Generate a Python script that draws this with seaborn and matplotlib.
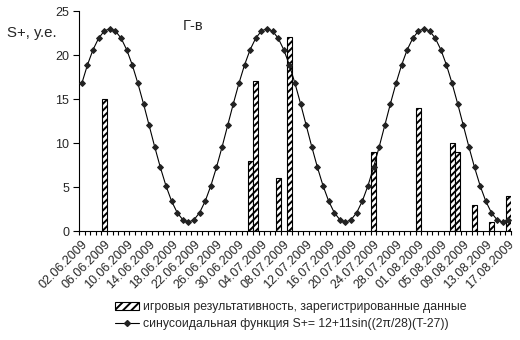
import numpy as np
import pandas as pd
import matplotlib
matplotlib.use("Agg")
import matplotlib.pyplot as plt
import matplotlib.transforms as mtransforms
import seaborn as sns
from matplotlib.patches import Patch
from matplotlib.lines import Line2D

sns.set_theme(style="white")
plt.rcParams["font.family"] = ["Liberation Sans", "DejaVu Sans"]
plt.rcParams["hatch.linewidth"] = 1.4
plt.rcParams["hatch.color"] = "black"

# daily categories, 02.06.2009 .. 17.08.2009
dates = pd.date_range("2009-06-02", "2009-08-17", freq="D").strftime("%d.%m.%Y").tolist()

# sinusoidal model S+ for each day
sine_values = [
    16.77, 18.86, 20.60, 21.91, 22.72, 23.00, 22.72, 21.91, 20.60, 18.86,
    16.77, 14.45, 12.00, 9.55, 7.23, 5.14, 3.40, 2.09, 1.28, 1.00,
    1.28, 2.09, 3.40, 5.14, 7.23, 9.55,
    12.00, 14.45, 16.77, 18.86, 20.60, 21.91, 22.72, 23.00, 22.72, 21.91,
    20.60, 18.86, 16.77, 14.45, 12.00, 9.55, 7.23, 5.14, 3.40, 2.09,
    1.28, 1.00, 1.28, 2.09, 3.40, 5.14, 7.23, 9.55,
    12.00, 14.45, 16.77, 18.86, 20.60, 21.91, 22.72, 23.00, 22.72, 21.91,
    20.60, 18.86, 16.77, 14.45, 12.00, 9.55, 7.23, 5.14, 3.40, 2.09,
    1.28, 1.00, 1.28,
]

# registered game results
bar_dates = ["06.06.2009", "02.07.2009", "03.07.2009", "07.07.2009", "09.07.2009",
             "24.07.2009", "01.08.2009", "07.08.2009", "08.08.2009", "11.08.2009",
             "14.08.2009", "17.08.2009"]
bar_values = [15, 8, 17, 6, 22, 9, 14, 10, 9, 3, 1, 4]

y_ticks = [0, 5, 10, 15, 20, 25]

fig = plt.figure(figsize=(5.2, 3.4), dpi=100)
ax = fig.add_axes([79 / 520, 1 - 231 / 340, (511 - 79) / 520, (231 - 11) / 340])

sns.barplot(x=bar_dates, y=bar_values, order=dates, color="white", saturation=1,
            edgecolor="black", linewidth=0.8, width=0.9, ax=ax, zorder=2)
for bar in ax.patches:
    bar.set_hatch("/////")
    bar.set_edgecolor("black")

positions = np.arange(len(dates))
sns.lineplot(x=positions, y=sine_values, color="black", linewidth=0.8, marker="D",
             markersize=3.0, markerfacecolor="#222222", markeredgecolor="#222222",
             ax=ax, zorder=3)

ax.set_xlim(-0.5, len(dates) - 0.5)
ax.set_ylim(0, 25)
ax.set_yticks(y_ticks)
ax.set_yticklabels([str(v) for v in y_ticks], fontsize=9)

ax.set_xticks(positions[::4])
ax.set_xticklabels(dates[::4], rotation=45, ha="right", rotation_mode="anchor", fontsize=9)
shift = mtransforms.ScaledTranslation(-0.08, -0.09, fig.dpi_scale_trans)
for lbl in ax.get_xticklabels():
    lbl.set_transform(lbl.get_transform() + shift)
ax.set_xticks(np.arange(-0.5, len(dates), 1), minor=True)
ax.tick_params(axis="x", which="major", length=0, pad=5)
ax.tick_params(axis="x", which="minor", length=3, width=0.8, direction="out", bottom=True, color="black")
ax.tick_params(axis="y", which="major", length=4, width=0.8, direction="out", left=True, color="black", pad=3)
ax.set_xlabel("")
ax.set_ylabel("")

for side in ["top", "right"]:
    ax.spines[side].set_visible(False)
for side in ["left", "bottom"]:
    ax.spines[side].set_color("black")
    ax.spines[side].set_linewidth(0.8)

fig.text(7 / 520, 1 - 33 / 340, "S+, у.е.", fontsize=10.8, va="center", ha="left")
fig.text(193 / 520, 1 - 26 / 340, "Г-в", fontsize=10.5, va="center", ha="center")

handles = [
    Patch(facecolor="white", edgecolor="black", hatch="////", linewidth=0.8),
    Line2D([0], [0], color="black", linewidth=0.8, marker="D", markersize=3,
           markerfacecolor="#222222", markeredgecolor="#222222"),
]
labels = [
    "игровыя результативность, зарегистрированные данные",
    "синусоидальная функция S+= 12+11sin((2π/28)(T-27))",
]
fig.legend(handles, labels, loc="upper left", bbox_to_anchor=(115 / 520, 1 - 301 / 340),
           frameon=False, fontsize=8.8, handlelength=2.0, handleheight=0.6,
           handletextpad=0.3, labelspacing=0.45, borderaxespad=0, borderpad=0)

fig.savefig("out.png", dpi=100)
